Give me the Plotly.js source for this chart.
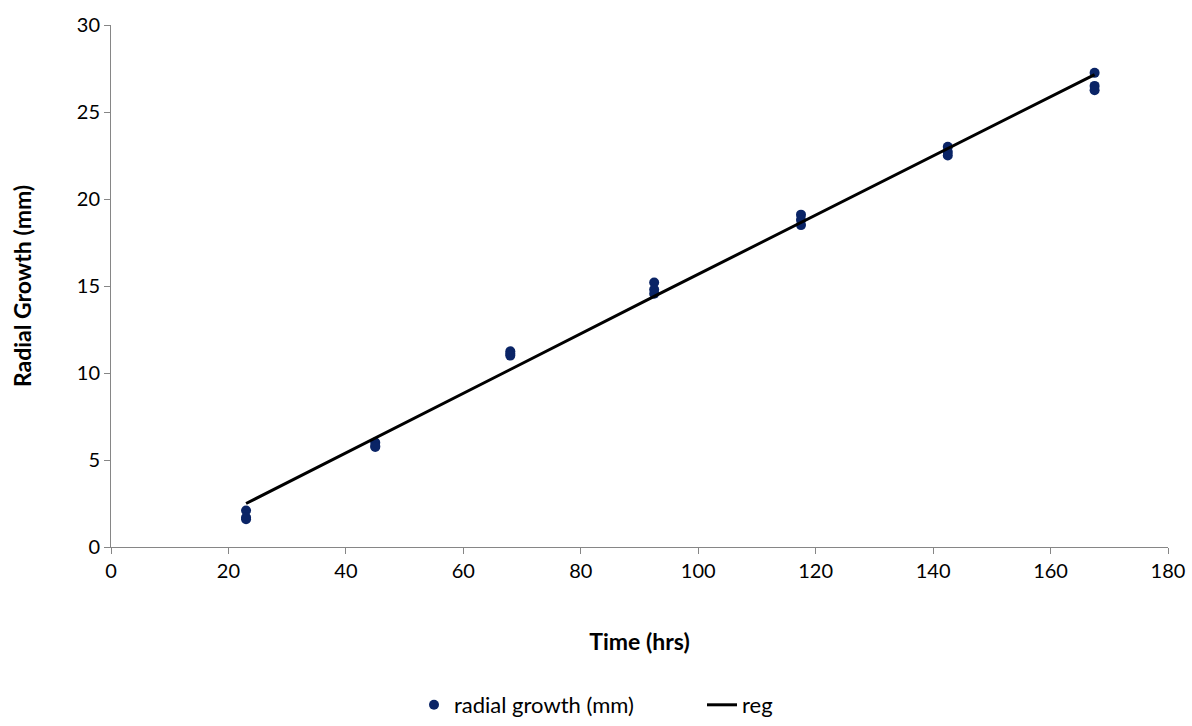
<!DOCTYPE html>
<html>
<head>
<meta charset="utf-8">
<script src="https://cdn.plot.ly/plotly-3.0.1.min.js"></script>
<style>html,body{margin:0;padding:0;background:#fff;}#chart{width:1192px;height:726px;}</style>
</head>
<body>
<div id="chart"></div>
<script>
const timeHrs = [23, 23, 23, 45, 45, 45, 68, 68, 68, 92.5, 92.5, 92.5, 117.5, 117.5, 117.5, 142.5, 142.5, 142.5, 167.5, 167.5, 167.5];
const radialGrowth = [2.1, 1.7, 1.6, 6.0, 5.8, 5.75, 11.25, 11.1, 11.0, 15.2, 14.8, 14.55, 19.1, 18.8, 18.5, 23.0, 22.7, 22.5, 27.25, 26.5, 26.25];
const regTime = [23, 45, 68, 92.5, 117.5, 142.5, 167.5];
const regValues = [2.5, 6.25, 10.2, 14.4, 18.65, 22.9, 27.15];

const font = "Lato, 'Open Sans', sans-serif";
const traces = [
  {x: timeHrs, y: radialGrowth, type: 'scatter', mode: 'markers', name: 'radial growth (mm)',
   marker: {color: '#0a2466', size: 10}},
  {x: regTime, y: regValues, type: 'scatter', mode: 'lines', name: 'reg',
   line: {color: '#000000', width: 3}}
];
const layout = {
  width: 1192, height: 726,
  margin: {l: 111, r: 24, t: 25, b: 179, autoexpand: false},
  paper_bgcolor: '#fff', plot_bgcolor: '#fff',
  font: {family: font, size: 20, color: '#000'},
  showlegend: true,
  legend: {orientation: 'h', x: 414 / 1192, xanchor: 'left', xref: 'container',
           y: -0.008, yanchor: 'bottom', yref: 'container',
           entrywidth: 243, entrywidthmode: 'pixels', traceorder: 'normal',
           font: {family: font, size: 22, color: '#000'}},
  xaxis: {range: [0, 180], dtick: 20, showgrid: false, zeroline: false,
          showline: true, linecolor: '#868686', linewidth: 1,
          ticks: 'outside', ticklen: 6, tickcolor: '#868686',
          tickfont: {family: font, size: 20},
          title: {text: '<b>Time (hrs)</b>', font: {family: font, size: 23}, standoff: 52}},
  yaxis: {range: [0, 30], dtick: 5, showgrid: false, zeroline: false,
          showline: true, linecolor: '#868686', linewidth: 1,
          ticks: 'outside', ticklen: 6, tickcolor: '#868686',
          tickfont: {family: font, size: 20},
          title: {text: '<b>Radial Growth (mm)</b>', font: {family: font, size: 23}, standoff: 38}}
};
Plotly.newPlot('chart', traces, layout, {displayModeBar: false, staticPlot: true});
</script>
</body>
</html>
